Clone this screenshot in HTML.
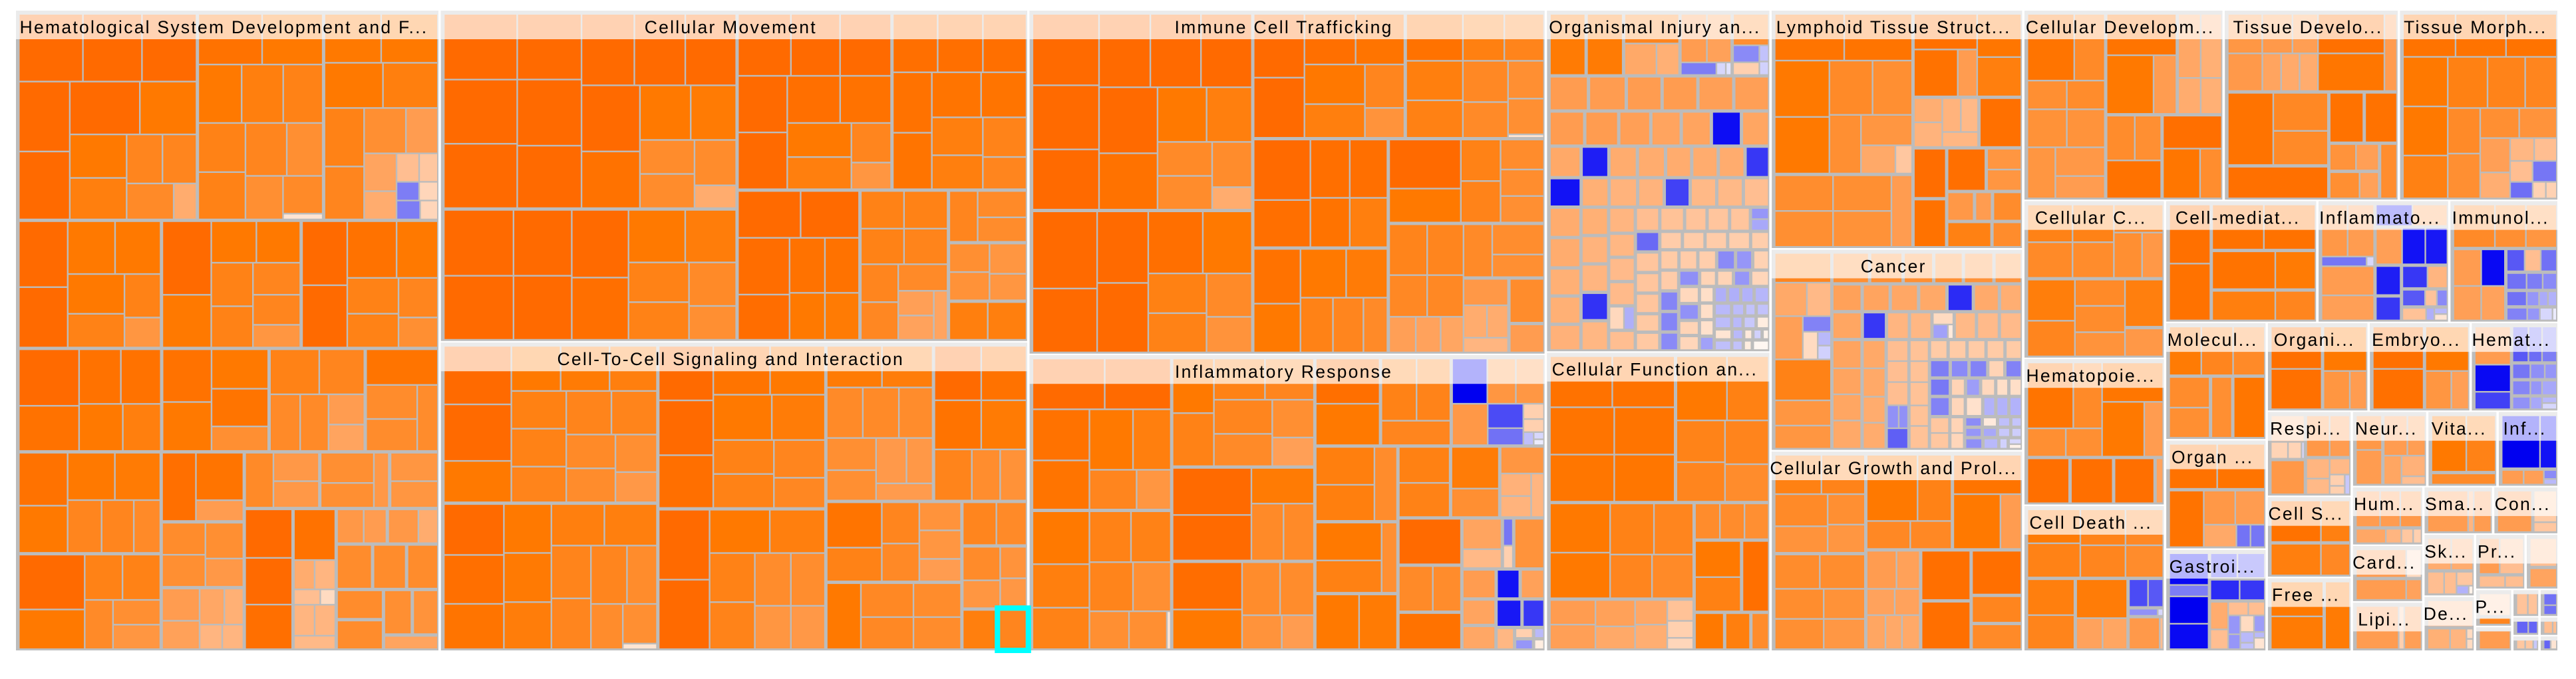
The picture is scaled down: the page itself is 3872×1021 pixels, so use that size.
<!DOCTYPE html>
<html lang="en">
<head>
<meta charset="utf-8">
<title>Treemap of biological function categories</title>
<style>
html,body{margin:0;padding:0;background:#fff;}
#chart{display:block;width:3872px;height:1021px;}
text{font-family:"Liberation Sans",sans-serif;font-size:26.5px;fill:#000;letter-spacing:2.25px;}
</style>
</head>
<body>
<svg id="chart" xmlns="http://www.w3.org/2000/svg" width="3872" height="1021" viewBox="0 0 3872 1021"></svg>
<script>
// Category labels
const categories = ["Hematological System Development and F...","Cellular Movement","Cell-To-Cell Signaling and Interaction","Immune Cell Trafficking","Inflammatory Response","Organismal Injury an...","Cellular Function an...","Lymphoid Tissue Struct...","Cancer","Cellular Growth and Prol...","Cellular Developm...","Tissue Develo...","Tissue Morph...","Cellular C...","Cell-mediat...","Inflammato...","Immunol...","Molecul...","Organi...","Embryo...","Hemat...","Hematopoie...","Cell Death ...","Organ ...","Gastroi...","Respi...","Neur...","Vita...","Inf...","Cell S...","Free ...","Hum...","Sma...","Con...","Card...","Lipi...","Sk...","De...","Pr...","P..."];

// Tile values: leaf = [size, z-score, selected?], branch = [split, size, ...children]
const hematologicalValues = ['V',1,
 ['H',919,
  ['v',592,
   ['h',298,[210,10],[193,10],[178,10]],
   ['h',614,
    ['v',166,[308,10],[299,10]],
    ['v',421,
     ['h',231,[230,10],[185,9]],
     ['h',376,['v',186,[189,9],[180,8]],['v',230,['h',214,[115,7],[109,7]],['h',155,[152,6.5],[71,4] ] ] ]
    ]
   ]
  ],
  ['v',413,
   ['h',221,[209,9.5],[198,9]],
   ['h',256,[140,9],[134,8],[127,7.5]],
   ['h',427,['v',153,[214,7.5],[206,7.5]],['v',254,['h',231,[133,7],[115,6]],['h',189,[120,6],['v',127,[164,6.5],[19,1] ] ] ] ]
  ],
  ['v',376,
   ['h',213,[185,9],[185,9]],
   ['h',196,[191,9],[179,8]],
   ['h',494,['v',128,[256,7.5],[231,7]],['v',243,['h',197,[135,6],[102,5]],['h',290,['v',104,[163,4.5],[120,4]],['v',134,['h',121,[71,3],[58,2.5]],['h',77,[71,-4],[58,1.7]],['h',78,[71,-4],[52,1.7] ] ] ] ] ]
  ]
 ],
 ['H',562,
  ['h',472,['v',159,[290,10],[265,10]],['v',307,['h',231,[154,9],[148,9]],['h',324,['v',185,[172,9],[145,7.5]],['v',116,[189,7.5],[128,5.5] ] ] ] ],
  ['h',459,['v',159,[324,10],[230,9]],['v',294,['h',180,[146,9],[142,9]],['h',375,['v',135,[189,7.5],[179,7.5]],['v',154,[137,7],[128,7],[95,5.5] ] ] ] ],
  ['h',452,['v',147,[281,10],[273,10]],['v',300,['h',248,[161,9.5],[134,9]],['h',306,['v',167,[154,7.5],[145,7.5]],['v',127,[171,7],[128,6] ] ] ] ]
 ],
 ['H',451,
  ['h',472,['v',197,[247,10],[196,9.5]],['v',269,['h',239,[135,9.5],[129,9.5]],['h',205,[141,9],[122,8] ] ] ],
  ['h',350,['v',159,[230,9.5],[213,9]],['v',185,[170,9],[162,9.3],[103,6] ] ],
  ['v',312,['h',195,[160,7.5],[146,7]],['h',247,[96,6.5],[90,6.5],['v',115,[128,5],[111,4.5] ] ] ],
  ['v',236,[153,9.3],['h',289,['v',166,[145,6.3],[136,6.3]],[64,6.3] ] ]
 ],
 ['H',878,
  ['V',472,
   ['h',443,['v',159,[231,9.5],[205,9]],['v',307,['h',206,[154,9],[148,8.7]],['h',230,[109,7],[103,7],[84,6.5] ] ] ],
   ['h',418,['v',217,[239,10],[171,9]],['v',250,['h',196,[122,7.5],[122,7.5]],['h',214,[90,6.5],['v',154,[103,6],[102,5.5] ] ] ] ]
  ],
  ['V',269,
   ['h',299,[109,9.7],['v',155,[206,9.3],[86,5] ] ],
   ['h',280,['v',141,[136,6.3],[136,6]],['v',123,[153,6],[119,5.3] ] ],
   ['h',265,['v',121,[137,5],[120,4.7]],['v',142,['h',154,[78,4.3],[59,3.8]],['h',103,[71,3.5],[66,3.5] ] ] ]
  ],
  ['V',645,
   ['H',240,['h',243,[90,6.5],['v',148,[121,5.3],[112,5.3] ] ],['h',224,['v',174,[129,6],[104,6]],[45,5.3]],['v',154,[121,5.5],[112,5.5] ] ],
   ['H',622,
    ['v',153,[205,10],[197,10],[188,9.7]],
    ['v',134,[214,9.5],['h',121,[66,4],[66,3.5]],['h',60,[83,3],[45,1.5]],['h',128,[66,3.5],[66,3.5]],[52,3.3]],
    ['V',334,['H',144,['h',160,[84,5.3],[71,5]],['h',161,[96,5.3],[60,4]]],['H',188,[109,6.3],[101,6.3],[95,6.3]],['H',256,['V',148,[119,6.3],[120,6.3]],['V',175,['H',187,[85,6],[77,5.7]],[52,4.5] ] ] ]
   ]
  ]
 ]
];

const movementValues = ['H',1,
 ['V',763,
  ['h',841,
   ['v',189,[279,10],[272,10],[273,10]],
   ['v',165,[279,10],[281,10],[265,10]],
   ['v',403,
    ['h',305,[135,10],[130,10],[130,10]],
    ['h',529,['v',150,[281,10],[240,9.5]],['v',250,['h',231,[130,9],[116,8.7]],['h',290,['v',140,[141,6.3],[142,6.3]],['v',106,[190,6.3],[92,4] ] ] ] ]
   ]
  ],
  ['h',560,
   ['v',179,[280,10],[272,10]],
   ['v',149,[280,10],[272,10]],
   ['v',145,[288,10],[264,9.7]],
   ['v',279,['h',222,[145,9],[130,8.3]],['h',330,['v',155,[166,7.5],[157,7.5]],['v',120,[182,6.5],[140,6] ] ] ]
  ]
 ],
 ['V',753,
  ['H',758,
   ['v',397,['h',263,[135,10],[125,10],[130,10]],['h',487,['v',125,[239,10],[240,10]],['v',268,['h',198,[135,9.7],[130,9.5]],['h',281,['v',164,[141,9],[133,8]],['v',100,[165,7],[109,5.5] ] ] ] ] ],
   ['v',346,['h',248,[113,9.7],[114,9.7],[110,9.7]],['h',503,['v',98,[256,9.5],[239,9.3]],['v',244,['h',189,[125,9.3],[115,9.3]],['h',306,['v',129,[158,8],[141,8]],['v',110,[165,7.3],[133,7] ] ] ] ] ]
  ],
  ['H',642,
   ['v',313,['h',197,[160,10],[149,10]],['h',437,['v',131,[239,9.8],[189,9.8]],['v',178,['h',232,[88,9.5],[85,9.5]],['h',197,[88,9],[85,8.7] ] ] ] ],
   ['v',223,['h',157,[109,7.5],[110,7.5]],['h',148,[109,7.5],[110,7.2]],['h',322,['v',93,[158,7],[157,6.8]],['v',124,[108,6.5],['h',205,['v',89,[100,4.8],[98,4.6]],[32,4.5] ] ] ] ],
   ['V',198,['h',214,[70,7],['v',124,[107,6.5],[99,6.3] ] ],['h',240,['v',98,[117,6],[116,5.8]],['v',90,[125,5.5],[109,5.5] ] ],['h',157,[94,8],[95,8] ] ]
  ]
 ]
];

const signalingValues = ['H',1,
 ['V',555,
  ['h',698,
   ['v',173,[256,10],[247,10],[179,9]],
   ['v',378,['h',196,[126,9],[125,8.7],[121,8]],['h',494,['v',140,[162,7.7],[163,7.5],[153,7.2]],['v',234,['h',189,[114,7.2],[115,7.2]],['h',298,['v',125,[145,6.5],[146,6.3]],['v',105,[162,6],[129,5.3] ] ] ] ] ]
  ],
  ['h',647,
   ['v',154,[222,10],[213,9.7],[197,9.3]],
   ['v',121,[213,9],[214,8.8],[205,8.3]],
   ['v',274,['h',180,[135,8],[134,8]],['h',460,['v',100,[231,7.2],[222,7]],['v',170,['h',256,[91,7],[75,6.3]],['h',197,[80,6.3],['v',86,[171,6],[18,1] ] ] ] ] ]
  ]
 ],
 ['V',432,
  ['h',724,
   ['v',139,[238,10],[239,10],[230,9.7]],
   ['v',289,['h',213,[145,9.3],[140,9]],['h',197,[149,9],[135,8.5]],['h',299,['v',155,[146,7.5],[146,7.5]],['v',130,[163,7],[129,6.8] ] ] ]
  ],
  ['h',622,
   ['v',129,[308,10],[306,10]],
   ['v',298,['h',188,[153,9],[140,8]],['h',426,['v',114,[214,7.5],[205,7.3]],['v',90,[230,6.3],[188,5.5]],['v',85,[230,6.2],[188,5.3] ] ] ]
  ]
 ],
 ['V',520,
  ['H',690,
   ['v',273,['h',180,[141,8.7],[129,8.3]],['h',220,[90,6.5],[90,6.5],[84,6.3]],['h',274,['v',125,[137,6],[129,6]],['v',144,['h',197,[75,5.2],[64,5.3]],[70,5.1] ] ] ],
   ['v',237,['h',238,[118,10],[114,9.5]],['h',214,[118,9.4],[114,8.7]],['h',223,[94,7.2],[70,6.2],[65,5.8] ] ]
  ],
  ['H',655,
   ['V',348,
    ['h',349,['v',140,[197,9.3],[145,7.5]],['v',94,[178,7],[163,6.6]],['v',105,[119,5.7],[121,5.5],[94,5] ] ],
    ['h',290,[85,9],['v',133,[145,6.7],[137,6.7]],['v',120,[145,6.3],[137,6.3] ] ]
   ],
   ['V',163,
    ['h',188,[84,7],[75,6.5]],
    ['h',273,['v',94,[146,6.4],[120,5.5]],['v',65,[136,5.7],[129,5.4] ] ],
    ['H',172,[84,8],[65,7,1] ]
   ]
  ]
 ]
];

const traffickingValues = ['H',1,
 ['V',642,
  ['h',848,
   ['v',192,[305,10],[273,10],[256,10]],
   ['v',447,['h',314,[147,10],[145,10],[146,10]],['h',528,['v',168,[281,10],[239,9.5]],['v',274,['h',232,[140,9],[129,8]],['h',289,['v',157,[142,6.5],[141,6.3]],['v',113,[190,6.3],[91,4] ] ] ] ] ]
  ],
  ['h',609,
   ['v',186,[330,10],[272,10]],
   ['v',146,[305,10],[296,10]],
   ['v',301,['h',264,[156,9.7],[140,9]],['h',338,['v',167,[166,7.7],[164,7.5]],['v',129,[182,6.5],[148,5.7] ] ] ]
  ]
 ],
 ['V',851,
  ['H',534,
   ['h',439,['v',145,[271,10],[255,10]],['v',290,['h',214,[146,9.7],[139,9.3]],['h',313,['v',174,[166,9.1],[140,8]],['v',112,[182,7],[123,5.7] ] ] ] ],
   ['v',401,['h',198,[162,9.5],[117,7.8],[112,7.2]],['h',329,['v',162,[166,8],[157,7.6]],['v',128,[173,6.7],[149,6.5]],['v',101,[158,6],[149,6],[8,1] ] ] ]
  ],
  ['H',922,
   ['V',389,
    ['h',462,['v',162,[256,10],[198,9.7]],['v',111,[246,9.7],[207,9.4]],['v',106,[246,9.7],[207,8] ] ],
    ['h',444,['v',133,[231,9.5],[205,9]],['v',251,['h',205,[130,9],[117,8.6]],['h',231,[91,7.5],[85,7],[66,6.5] ] ] ]
   ],
   ['V',451,
    ['h',355,['v',206,[207,10],[141,9]],['v',112,[174,7.5],[174,7.3]],['v',123,[124,6.3],[109,6.2],[109,6] ] ],
    ['h',552,
     ['v',212,['h',214,[106,7.2],[101,7]],['h',174,[106,6.7],[101,6.7]],['h',148,[73,4.8],[68,4.6],[62,4.4] ] ],
     ['V',230,['h',223,[79,6.5],['v',146,[124,6.2],[91,6] ] ],['H',313,['v',125,[108,5.3],['h',134,[64,4],[57,4]],[57,3.5]],['V',95,[182,6.3],[114,5] ] ] ]
    ]
   ]
  ]
 ]
];

const inflammatoryValues = ['H',1,
 ['V',403,
  ['v',672,
   ['h',221,[208,10],[190,10]],
   ['h',443,['v',163,[222,9.5],[213,9.3]],['v',235,['h',264,[124,9],[107,8]],['h',171,[134,7],[96,5.5] ] ] ]
  ],
  ['h',613,
   ['v',163,[230,9],[188,8],[179,7.5]],
   ['v',235,['h',221,[117,7.5],[112,7.5]],['h',213,[124,7.2],[107,6]],['h',163,[112,6],[107,6],[7,1] ] ]
  ]
 ],
 ['V',412,
  ['h',477,['v',117,[238,9],[231,7.5]],['v',290,['h',178,[146,7.5],[140,7]],['h',291,['v',167,[146,7],[138,6.5]],['v',118,[162,6],[121,4.8] ] ] ] ],
  ['h',409,['v',228,[204,10],[197,10]],['v',180,[153,8.7],['h',248,[90,6.5],[85,6.5] ] ] ],
  ['h',384,['v',200,[205,9.8],[171,9]],['v',207,['h',230,[107,6.3],[95,6.3]],['h',145,[112,5.7],[90,5] ] ] ]
 ],
 ['V',668,
  ['H',383,
   ['h',185,['v',1,[196,9.7],[179,9] ] ],
   ['v',200,['h',273,[100,7.5],[96,7.3]],[103,7]],
   ['v',268,
    ['h',196,[100,-10],[80,5.5],[79,5.4]],
    ['h',179,[100,5.3],['v',100,[102,-6],[69,-4.5]],['v',56,[61,2],[51,2],['h',51,[23,-1.8],['v',23,[22,-1],[17,-0.5] ] ] ] ]
   ]
  ],
  ['H',903,
   ['V',235,
    ['h',324,['v',168,[162,8],[154,8]],[62,6.3]],
    ['h',307,['v',190,[162,9],[137,7.7]],[41,6]],
    ['h',238,[123,9],[107,8.7] ]
   ],
   ['V',423,
    ['H',308,['v',145,[154,7.7],[146,7.5]],['v',135,[179,8.5],[120,6]],['v',123,[112,5.5],['h',188,['v',85,[94,3.7],[87,3.6]],[33,3.5] ] ] ],
    ['H',579,
     ['V',178,[196,10],['h',195,[95,6.5],[78,6.3]],[154,9.5]],
     ['V',234,
      ['H',213,['v',111,[128,4.5],[77,3.3]],['v',24,[112,-4.3],[93,2]],[83,5.7]],
      ['H',119,[90,5],[60,-9],[62,4.7]],
      ['H',213,['V',90,[102,4.5],[94,4.3]],['V',133,['H',111,[65,-8.5],[56,-7]],['H',85,[44,3.4],['V',45,[35,2],[35,-3]],['V',23,[35,-2],[35,0.7] ] ] ] ]
     ]
    ]
   ]
  ]
 ]
];

const organismalValues = ['V',1,
 ['H',262,[105,8.7],[106,8.7],
  ['v',165,[123,7],['h',131,[94,4.2],[65,3.8] ] ],
  ['v',152,['h',206,[76,5],[71,4.7]],['h',48,[104,-4],[24,-1],[12,-0.7] ] ],
  ['v',106,[131,6],['h',123,['v',76,[67,-3.5],[48,2]],['v',24,[59,-1.7],[48,-1.2] ] ] ]
 ],
 ['H',140,[111,5],[106,5],[100,5],[100,5],[100,4.8],[100,4.8]],
 ['H',140,[99,5],[94,5],[88,4.8],[83,4.5],[82,4.5],[82,-9.3],[76,4.4]],
 ['H',124,[88,4.2],[75,-8],[77,4],[76,4],[70,4],[71,4],[72,4],[65,-7]],
 ['H',115,[88,-9],[75,3.8],[77,3.6],[71,3.6],[69,-6.5],[71,3.3],[71,3.3],[70,3]],
 ['H',618,
  ['V',88,[116,4],[116,4],[106,3.8],[107,3.8],[100,3.7]],
  ['V',75,[108,3.8],[108,3.6],[108,3.5],[108,-7.2],[116,3.4]],
  ['V',72,[99,3.5],[90,3.4],[91,3.2],[91,3.2],['h',92,[36,1.6],[25,-2.3]],[75,3]],
  ['V',65,[91,3],[75,-4.8],[75,2.6],[75,2.6],[75,2.6],[66,2.4],[67,2.4]],
  ['V',328,
   ['H',91,[65,2.8],[58,2.7],[58,2.6],[53,2.6],['v',48,[41,-3],[42,-2.5] ] ],
   ['H',66,[59,2.2],[59,2.2],[59,2.2],[60,2.1],[48,2.1]],
   ['H',74,[48,2.3],[47,2.2],[47,2.1],[47,-3.5],[42,-3],[41,1.9]],
   ['H',338,
    ['V',48,[75,2.2],[74,-3.7],[74,-3.7],[67,-3.5]],
    ['V',269,
     ['H',58,[53,-3.3],[41,1.8],[41,1.8],[42,-3],[47,1.7]],
     ['H',272,
      ['V',53,[57,1.6],[56,-3.2],[49,1.8],[50,1.7]],
      ['V',35,[57,1.3],[57,1.3],[57,1.2],[49,-2.7]],
      ['V',159,
       ['H',57,[30,-2.3],[29,-2.3],[30,-2.2],[36,-2.1]],
       ['H',41,[42,-2],[29,-1.9],[24,-1.7],[30,-1.7]],
       ['H',41,[42,-1.9],[24,-2],[29,-1.5],[30,0.7]],
       ['H',33,[42,1],[24,-2],[17,0.8],[17,-1.2],[12,0.5]],
       ['H',33,[42,-1.8],[24,-1.7],[17,0.7],[41,0.3]]
      ]
     ]
    ]
   ]
  ]
 ]
];

const cellFunctionValues = ['V',1,
 ['H',646,
  ['v',380,['h',221,[187,9.5],[187,9.5]],['h',204,[193,9.3],[181,9.3]],['h',203,[193,9.2],[181,9.2] ] ],
  ['v',280,['h',281,[151,9],[124,7.7]],['h',357,['v',145,[179,7.4],[169,7]],['v',130,[188,7.1],[160,6.3] ] ] ]
 ],
 ['H',647,
  ['V',438,
   ['h',417,['v',181,[212,9],[196,9]],['v',252,['h',221,[130,7.5],[116,7]],['h',188,[124,7],[122,6.5] ] ] ],
   ['h',213,['v',135,[102,5],[102,4.8]],['v',117,[110,4.7],[94,4.2]],['v',94,[102,4.3],[102,3.9]],['v',75,[85,2.8],[68,2],[43,1.7] ] ]
  ],
  ['V',223,
   ['h',152,[72,6.3],[71,6.3],[70,6]],
   ['H',306,['v',136,[152,9],[144,7.7]],[76,9.7]],
   ['H',153,[83,9],[70,8],[47,6.3] ]
  ]
 ]
];

const lymphoidValues = ['H',1,
 ['V',422,
  ['v',691,
   ['h',197,[210,9.3],[205,9.3]],
   ['h',486,['v',165,[238,9],[239,9]],['v',252,['h',229,[129,6.5],[118,6]],['h',248,[93,6],['v',154,[125,5.5],['h',115,[102,4.2],[47,2.5] ] ] ] ] ]
  ],
  ['h',306,['v',175,[148,6.2],[149,6]],['v',175,[148,6],[149,5.8]],[59,5] ]
 ],
 ['V',329,
  ['h',353,['v',188,[148,9.6],['h',197,[128,9.5],[54,5] ] ],['v',130,[181,9.2],[164,8] ] ],
  ['H',206,['h',194,['v',83,[98,3.9],[100,3.6]],['v',106,['h',140,[52,3.6],[48,3.3]],[58,3.4] ] ],[124,9.6]],
  ['H',421,
   ['V',94,[206,9.8],[198,9.5]],
   ['V',224,
    ['H',174,[112,9.7],['v',101,[83,5.5],[84,5.5] ] ],
    ['H',115,[77,5.3],[46,5],[83,6.3]],
    ['H',99,[129,7.7],[83,6.3] ]
   ]
  ]
 ]
];

const cancerValues = ['H',1,
 ['v',170,
  [40.5,7],
  ['h',46,[95,4.2],[70,3.3]],
  ['h',60,[82,4.8],['v',82,[57,-3.8],['h',106,[41,1.5],['v',36,[49,-2],[49,-1.2] ] ] ] ],
  [56.7,7.5],
  [34,5.5],
  [31,5.5]
 ],
 ['V',581,
  ['H',43,[106,6],[93,6],[84,6],[81,6],[84,5.8],[77,5.7]],
  ['H',37,[83,4.7],[76,4.5],[77,4.3],[77,4.2],[71,-7.5],[70,4.1],[60,3.9]],
  ['H',37,[83,4.4],[64,-7],[60,3.5],[59,3.4],['v',58,[41,1.5],['h',50,[42,-2.7],[12,0.8] ] ],[58,3.3],[60,3.2],[60,3.2]],
  ['H',161,
   ['v',83,[110,4.5],[102,4.5],[103,4.4],[111,4.2]],
   ['v',64,[110,4.2],[112,4.2],[102,4],[102,4]],
   ['v',60,[76,3],[77,3],[86,3],['h',85,[31,-3.2],[24,-3.2]],[75,-5.2]],
   ['v',53,[76,2.8],[77,2.8],[86,2.8],[75,2.8],[84,2.8]],
   ['V',276,
    ['H',76,[46,2.3],[47,2.3],[47,2.3],[47,2.3],[42,2.3]],
    ['H',69,[52,-4],[46,-3.5],[46,-3.8],[41,1.8],[42,-3.8]],
    ['H',69,[52,-4.2],[35,1.8],[35,-2.8],[35,1.6],[29,1.3],[30,1.3]],
    ['H',77,[52,-3.8],[35,1.7],[42,1.2],[29,-2.2],[29,-2.2],[30,-2.2]],
    ['H',135,
     ['v',52,[58,2.5],[59,2.5]],
     ['v',35,[58,1.8],[59,1.7]],
     ['V',166,
      ['H',43,[42,-3.4],[35,0.8],[29,-1.8],[24,-1.6]],
      ['H',42,[42,-3],[35,-2.5],[29,-1.5],[24,-1.3]],
      ['H',51,[42,-3.3],[35,-2],[17,-1.2],['v',30,[25,-1],[18,0.5] ] ]
     ]
    ]
   ]
  ]
 ]
];

const growthValues = ['H',1,
 ['V',275,
  ['v',433,['h',169,[140,7.7],[130,7.3]],['h',255,['v',160,[136,6.5],[111,5.7]],['v',111,[128,6],[118,5.5] ] ] ],
  ['v',418,['h',146,[135,6.3],[135,6.2]],['h',127,[146,6.2],[122,5.8]],['h',128,[146,6],[122,5.4] ] ]
 ],
 ['V',475,
  ['H',416,
   ['v',258,['h',289,[152,9],[100,7.5]],['h',118,[130,6.7],[123,6.7] ] ],
   ['v',206,[169,9.3],['h',238,[141,9],[60,5] ] ]
  ],
  ['H',435,
   ['v',160,['h',163,[87,5],[67,4.7]],['h',110,[82,4.6],[73,4.6]],['h',145,[53,4.4],[46,4.2],[50,4.2] ] ],
   ['H',305,['V',145,[213,9.7],[205,9.7]],['V',147,[187,9.7],[110,7],[103,6.5] ] ]
  ]
 ]
];

const developmentValues = ['H',1,
 ['v',215,['h',279,[128,9.3],[82,6.5]],['h',116,[107,6],[103,6.3]],['h',156,[107,5.8],[103,5.7]],['h',212,[75,5.5],['v',136,[115,5.3],[88,5] ] ] ],
 ['V',322,
  ['H',428,['v',193,[173,9.3],['h',248,[128,9],[60,5] ] ],['v',119,['h',271,[59,4.3],[55,3.8]],['h',149,[59,4],[55,3.8] ] ] ],
  ['H',353,['v',150,['h',183,[75,6.3],[70,6]],[154,9.5]],['v',162,[133,9.7],['h',204,[97,9.2],[55,6.2] ] ] ]
 ]
];

const tissueDevValues = ['V',1,
 ['h',328,
  ['v',249,['h',164,[92,5.4],[80,5.2],[67,4.9]],['h',156,[92,5.2],[48,4.5],[47,4.1],[47,4] ] ],
  ['v',182,[164,9.6],[156,9.2]],
  [31,5]
 ],
 ['H',451,
  ['V',279,['h',305,[124,9.4],['v',150,[157,6.7],[140,6.5] ] ],[130,9.6]],
  ['V',186,
   ['H',207,[90,9.5],[85,9.5]],
   ['H',228,['V',133,['h',106,[69,5.7],[59,4.8]],['h',105,[79,6],[49,4.7] ] ],[42,6.2] ]
  ]
 ]
];

const tissueMorphValues = ['v',1,
 ['h',180,[145,9.4],[139,9.4],[140,9.4]],
 ['h',608,
  ['v',123,[208,9],[206,9],[179,7.7]],
  ['v',306,
   ['h',215,[108,7.7],[102,7.3],[85,7]],
   ['h',385,
    ['v',88,[190,6.5],[187,6]],
    ['v',214,
     ['h',123,[106,6],[102,5.7]],
     ['h',254,
      ['v',81,[141,4.8],[105,3.9]],
      ['v',129,['h',91,[64,3.4],[60,3]],['h',83,[60,3],[65,-4.3]],['h',64,[60,-4.6],[33,1.9],[27,1.9] ] ]
     ]
    ]
   ]
  ]
 ]
];

const cellCycleValues = ['V',1,
 ['h',313,
  ['v',240,['h',157,[123,7.5],[112,7.5]],['h',148,[123,6.5],[112,6.3] ] ],
  ['v',135,[115,7],['h',190,[75,6],[55,5.3] ] ]
 ],
 ['h',328,
  ['v',128,[172,8.2],[148,7]],
  ['v',135,[107,6.5],[107,6.3],[98,5.7]],
  ['V',102,[197,8],[114,5.3] ]
 ]
];

const cellMediatedValues = ['H',1,
 ['v',113,[248,9.6],[238,9.5]],
 ['V',290,['h',190,[140,9.5],[140,9.5]],['h',158,[172,9.4],[108,8.7]],['h',122,[172,8],[108,7] ] ]
];

const inflammatoValues = ['H',1,
 ['v',146,['h',213,[70,5.3],[71,5]],['h',34,[124,-4.3],[17,-1]],[116,5],[99,4.8]],
 ['V',200,
  ['h',90,[97,-8],[93,4.7]],
  ['h',158,[66,4.8],[58,-9],[55,-8.5]],
  ['H',238,
   ['V',66,[123,-8],[99,-7]],
   ['V',124,['h',91,[64,-7],[50,3.5]],['h',66,[54,-5.5],[26,2.7],[23,-3.5]],['h',49,[54,2.8],[16,-2.3],['v',28,[24,-2],[25,1] ] ] ]
  ]
 ]
];

const immunolValues = ['V',1,
 ['h',182,[110,6.5],[81,6],[81,5.5]],
 ['H',304,
  ['v',143,['h',148,[71,5],[60,-9.5]],['h',139,[71,4.8],[60,4.6] ] ],
  ['V',139,
   ['h',90,[43,-5.5],[38,3],[38,-4.5]],
   ['h',66,[48,-4.5],[38,-4],[33,-3.5]],
   ['h',58,[48,-4.5],[28,-3],[19,-2.4],[19,-2.2]],
   ['h',49,[48,-3.8],[28,-3],[28,-1],[7,-0.5]]
  ]
 ]
];

const molecularValues = ['V',1,
 ['h',70,[87,8.7],[86,7],[86,6.5]],
 ['H',87.7,['v',113,[128,6.3],[126,6]],[55,6],[86,9.2]]
];

const organiValues = ['H',1,
 ['v',139,[59,9.6],[56,9.6]],
 ['v',118,[62,9],['h',53,[69,5.5],[43,5] ] ]
];

const embryoValues = ['H',1,
 ['v',140,[59,9.6],[56,9.6]],
 ['v',119,[62,9],['h',53,[69,5.5],[45,4.8] ] ]
];

const hematValues = ['H',1,
 ['v',98,[53,5],[37,-9.5],[23,-6.5]],
 ['V',122,
  ['h',53,[37,-5.5],[31,-4.7],[34,-4]],
  ['h',21,[42,-4.3],[33,-3.3],[27,-3]],
  ['h',20,[42,-3.7],[26,-3],[34,-2.5]],
  ['h',17,[42,-3.2],[26,-2.5],['v',34,[25,-2],[25,-1] ] ]
 ]
];

const hematopoieValues = ['V',1,
 ['h',417,
  ['v',204,['h',289,[124,9.3],[76,6.5]],['h',120,[103,6],[97,6] ] ],
  ['v',166,[170,9.2],['h',239,[112,9],[48,5] ] ]
 ],
 ['H',195,[113,9.7],[113,9.7],[107,9.7],[16,4.5]]
];

const cellDeathValues = ['V',1,
 ['h',299,['v',145,[144,8.7],[145,7.5]],['v',123,[154,7.3],[137,7]],['v',102,[154,6.7],[137,6.3] ] ],
 ['H',307,
  ['v',128,[153,8],[145,7.2]],
  ['v',139,[162,8.5],['h',128,[69,4.6],[64,4.4] ] ],
  ['V',92,['h',119,[49,-6],[38,-5.5]],['h',25,[77,-3.2],[11,-1]],['h',137,[77,5.2],[5,3] ] ]
 ]
];

const organValues = ['V',1,
 ['h',195,[130,9.5],[129,9.3]],
 ['h',247,[92,9.4],['v',166,['h',145,[80,5.3],[75,5]],['h',93,[80,4.2],[32,-4.4],[33,-4.3] ] ] ]
];

const gastroValues = ['H',1,
 ['v',108,[129,-9.5],[42,-4],[110,-10],[102,-9.5]],
 ['V',151,
  ['h',104,[70,-7],[71,-6]],
  ['h',84,[76,-7.5],[65,-7]],
  ['h',205,
   ['v',45,[110,4],[77,3]],
   ['v',97,
    ['h',51,[48,3],[39,3]],
    ['h',137,
     ['v',26,[67,-3],[52,-3]],
     ['v',30,[52,1.5],[32,-2],[17,-1.7]],
     ['v',23,[52,-2.8],[15,-2],[34,1]]
    ]
   ]
  ]
 ]
];

const respiValues = ['H',1,
 ['V',90,
  ['v',187,[110,3],['h',67,[43,1.8],[33,1.8],[4,-1] ] ],
  [145,5.3]
 ],
 ['V',118,
  ['h',179,[58,5.3],[50,5]],
  ['h',154,['v',58,[77,3.5],[59,3.3]],['v',50,[61,3.3],['h',77,['v',33,[35,2],[25,2]],[9,-1.5] ] ] ]
 ]
];

const neurValues = ['H',1,
 ['v',70,[145,5.3],[145,5]],
 ['v',115,['h',170,[60,5],[45,4.9]],['h',120,[45,4.4],['v',62,[77,3.7],[27,3] ] ] ]
];

const vitaValues = ['V',1,['h',247,[92,9],[77,7.5]],[43,6.5]];

const infValues = ['V',1,['h',237,[106,-10],[44,-9]],['h',60,[59,5],[54,4.8],['v',33,[33,-3.5],[18,-2] ] ] ];

const cellSValues = ['V',1,['h',179,[134,9.5],[76,7.8]],['h',135,[134,8],[76,6.7]]];

const freeValues = ['H',1,['v',144,[146,9],[137,8.7]],[66,8.7]];

const humValues = ['V',1,['h',162,[63,5],[52,5],[55,5.3]],['h',60,[75,4.3],[37,3.5],[27,2.5],[18,2]]];

const smaValues = ['h',1,[107,5],[11,3.5],[44,5]];

const conValues = ['H',1,[92,5],['v',60,[127,2.3],[35,2.5] ] ];

const cardValues = ['V',1,['h',120,[135,5],[38,1.5]],['h',85,[134,5],[38,4.6]]];

const lipiValues = ['h',1,[113,5],[11,2],[43,4.8]];

const skValues = ['V',1,['h',138,[60,4],[55,4]],['h',95,[39,3],[28,3],['v',39,[50,2.5],['h',28,[22,-2.2],[6,0.5] ] ] ] ];

const deValues = ['V',1,[112,3],['h',85,[54,3.8],[38,3.5],['v',13,[35,1.5],[35,1.5] ] ] ];

const prValues = ['V',1,['h',153,[55,5],[65,3]],['h',45,[70,3],[49,3]]];

const unlabeledValues = ['V',1,[120,3],[78,4.5]];

const pValues = ['V',1,[102,2],[27,7]];

const minorAValues = [77,5];
const minorBValues = ['h',1,[25,2.7],[21,2.7]];
const minorCValues = ['v',1,[42,-4.5],[33,-4.5]];
const minorDValues = ['h',1,[30,-5],[23,-5]];
const minorEValues = ['h',1,[20,3],[7,3]];
const minorFValues = ['h',1,[20,2.5],[18,2.5],[8,-1.5]];
const minorGValues = ['h',1,[12,-5],[10,1]];

// Arrangement of the category groups: ['G', size, category index, tile values, header on/off]
const minorColumn = ['C',68,
 ['R',39,['G',40,-1,minorBValues,0],['G',27,-1,minorCValues,0]],
 ['R',26,['G',40,-1,minorDValues,0],['G',27,-1,minorEValues,0]],
 ['R',21,['G',40,-1,minorFValues,0],['G',27,-1,minorGValues,0]]
];
const pBlock = ['C',124,
 ['R',81,['G',74,38,prValues,1],['G',47,-1,unlabeledValues,1]],
 ['R',91,['C',54,['G',54,39,pValues,1],['G',35,-1,minorAValues,0]],minorColumn]
];
const smallBlock = ['C',201,
 ['R',68.7,['G',102.6,32,smaValues,1],['G',96,33,conValues,1]],
 ['R',173,['C',75,['G',90.7,36,skValues,1],['G',80,37,deValues,1]],pBlock]
];
const neurBlock = ['C',308,
 ['R',110.7,['G',111.5,26,neurValues,1],['G',103.5,27,vitaValues,1],['G',89.5,28,infValues,1]],
 ['R',245,['C',104.5,['G',85,31,humValues,1],['G',82,34,cardValues,1],['G',71,35,lipiValues,1]],smallBlock]
];
const organiBlock = ['C',435,
 ['R',131,['G',150,18,organiValues,1],['G',150,19,embryoValues,1],['G',129,20,hematValues,1]],
 ['R',358,['C',124.5,['G',125,25,respiValues,1],['G',119,29,cellSValues,1],['G',108,30,freeValues,1]],neurBlock]
];
const mediatedBlock = ['C',588,
 ['R',181,['G',225,14,cellMediatedValues,1],['G',194.4,15,inflammatoValues,1],['G',160.5,16,immunolValues,1]],
 ['R',492,['C',149,['G',174,17,molecularValues,1],['G',162,23,organValues,1],['G',151,24,gastroValues,1]],organiBlock]
];
const lastColumn = ['C',801,
 ['R',284,['G',297.4,10,developmentValues,1],['G',259.5,11,tissueDevValues,1],['G',236.4,12,tissueMorphValues,1]],
 ['R',675,['C',209.4,['G',234,13,cellCycleValues,1],['G',217.3,21,hematopoieValues,1],['G',216,22,cellDeathValues,1]],mediatedBlock]
];
const groupArrangement = ['R',1,
 ['G',635,0,hematologicalValues,1],
 ['C',881,['G',497,1,movementValues,1],['G',463,2,signalingValues,1]],
 ['C',774,['G',516,3,traffickingValues,1],['G',444,4,inflammatoryValues,1]],
 ['C',334,['G',513,5,organismalValues,1],['G',448,6,cellFunctionValues,1]],
 ['C',376,['G',357,7,lymphoidValues,1],['G',301,8,cancerValues,1],['G',299,9,growthValues,1]],
 lastColumn
];

// Diverging colour scale: index 0..10 is the magnitude of the z-score
const orangeStops = [[255,255,255],[255,229,211],[255,208,175],[255,190,145],[255,172,110],[255,156,80],[255,143,50],[255,133,30],[255,127,14],[255,121,0],[255,106,0]];
const blueStops = [[255,255,255],[215,215,252],[185,185,250],[150,150,248],[125,125,245],[100,100,245],[75,75,245],[55,55,245],[30,30,245],[18,18,245],[0,0,240]];

const NS = 'http://www.w3.org/2000/svg';
const svg = document.getElementById('chart');
const plotArea = {x:24, y:16, w:3820, h:962};
const splitGaps = {H:5, V:5, h:2.4, v:2.4, R:3.8, C:2.5};
const inset = {l:5.5, t:6, r:2, b:3};
const headerHeight = 37;
const labelShift = -5;
let selectedTile = null;

function colorFor(z) {
  const stops = z >= 0 ? orangeStops : blueStops;
  const m = Math.min(10, Math.abs(z));
  const i = Math.min(9, Math.floor(m));
  const f = m - i;
  const c = stops[i].map((v, k) => Math.round(v + (stops[i + 1][k] - v) * f));
  return 'rgb(' + c.join(',') + ')';
}

function addRect(x, y, w, h, fill) {
  const r = document.createElementNS(NS, 'rect');
  r.setAttribute('x', x.toFixed(2));
  r.setAttribute('y', y.toFixed(2));
  r.setAttribute('width', Math.max(0, w).toFixed(2));
  r.setAttribute('height', Math.max(0, h).toFixed(2));
  r.setAttribute('fill', fill);
  svg.appendChild(r);
  return r;
}

function drawLeaf(node, x, y, w, h) {
  const tile = addRect(x, y, w, h, colorFor(node[1]));
  
  
  if (node[2]) selectedTile = {x: x, y: y, w: w, h: h};
}

function drawGroup(node, x, y, w, h) {
  const frameRect = addRect(x, y, w, h, '#bcbcbc');
  
  
  const hasHeader = node[4] === 1;
  layoutNode(node[3], x + inset.l, y + inset.t, w - inset.l - inset.r, h - inset.t - inset.b);
  const band = addRect(x, y, w, inset.t + (hasHeader ? headerHeight : 0), 'rgba(255,255,255,0.7)');
  
  
  if (node[2] >= 0) {
    const t = document.createElementNS(NS, 'text');
    t.setAttribute('x', (x + w / 2 + labelShift).toFixed(2));
    t.setAttribute('y', (y + inset.t + 28).toFixed(2));
    t.setAttribute('text-anchor', 'middle');
    
    
    t.textContent = categories[node[2]];
    svg.appendChild(t);
  }
}

function layoutNode(node, x, y, w, h) {
  if (typeof node[0] === 'number') { drawLeaf(node, x, y, w, h); return; }
  if (node[0] === 'G') { drawGroup(node, x, y, w, h); return; }
  const horizontal = node[0] === 'H' || node[0] === 'h' || node[0] === 'R';
  const kids = node.slice(2);
  const gap = splitGaps[node[0]];
  const shareOf = k => (typeof k[0] === 'number' ? k[0] : k[1]);
  const total = kids.reduce((s, k) => s + shareOf(k), 0);
  const avail = (horizontal ? w : h) - gap * (kids.length - 1);
  let pos = horizontal ? x : y;
  kids.forEach(k => {
    const size = avail * shareOf(k) / total;
    if (horizontal) layoutNode(k, pos, y, size, h);
    else layoutNode(k, x, pos, w, size);
    pos += size + gap;
  });
}

layoutNode(groupArrangement, plotArea.x, plotArea.y, plotArea.w, plotArea.h);

if (selectedTile) {
  const ring = document.createElementNS(NS, 'rect');
  ring.setAttribute('x', (selectedTile.x - 4).toFixed(2));
  ring.setAttribute('y', (selectedTile.y - 4).toFixed(2));
  ring.setAttribute('width', (selectedTile.w + 8).toFixed(2));
  ring.setAttribute('height', (selectedTile.h + 7).toFixed(2));
  ring.setAttribute('fill', 'none');
  ring.setAttribute('stroke', '#00ffff');
  ring.setAttribute('stroke-width', '8');
  
  
  svg.appendChild(ring);
}
</script>
</body>
</html>
